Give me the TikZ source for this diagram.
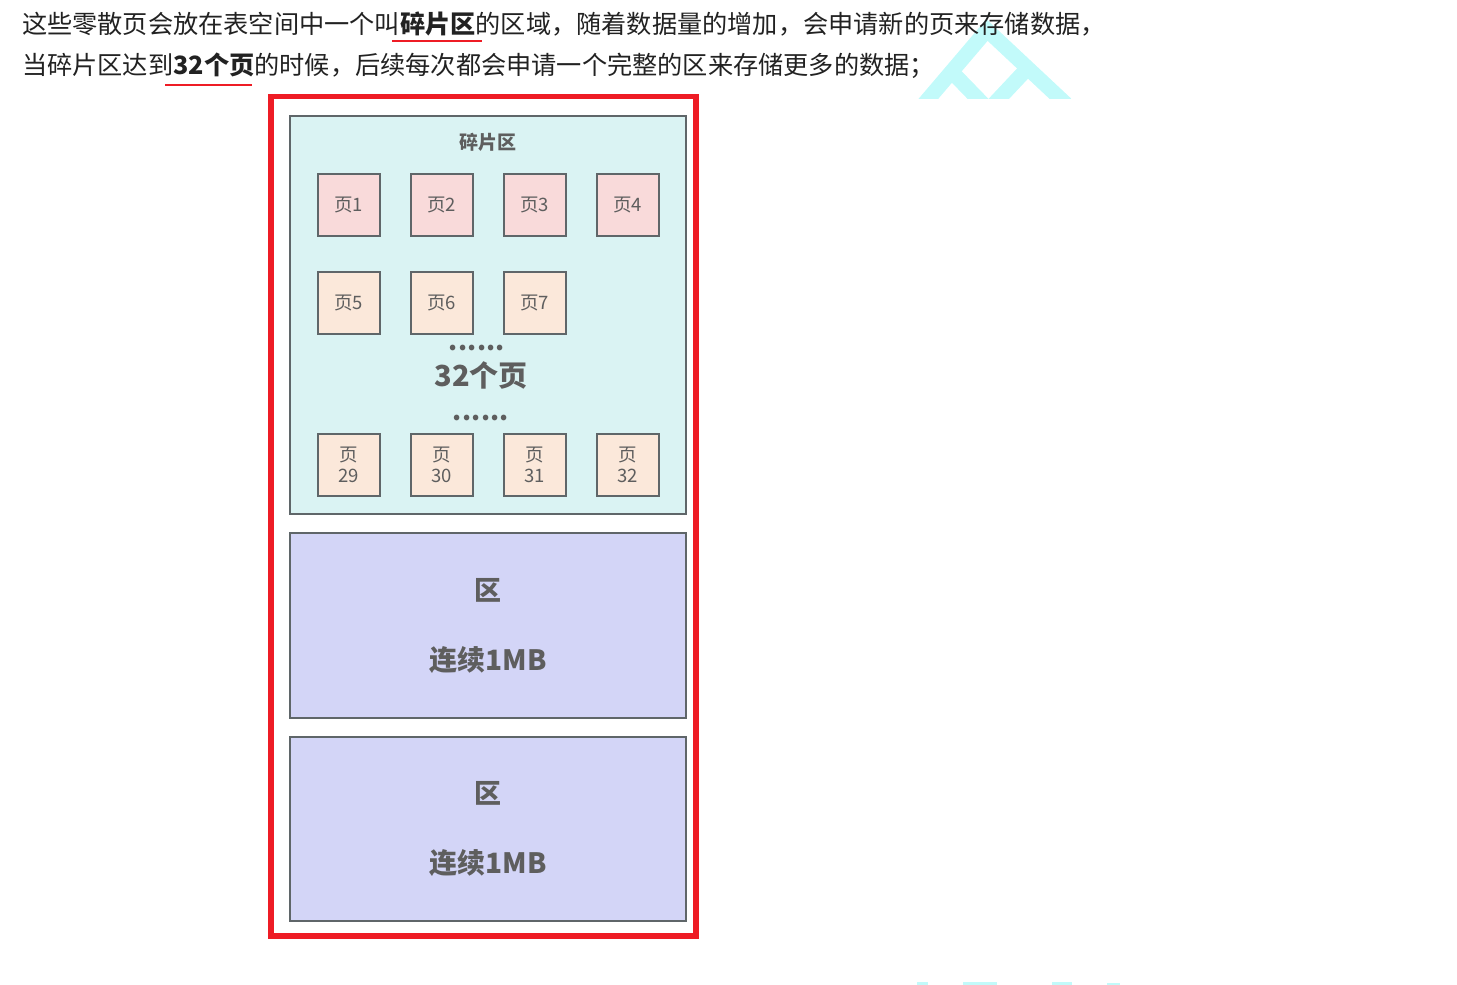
\documentclass[tikz,border=0pt]{standalone}
\usepackage{fontspec}
\setmainfont{Noto Sans CJK SC}
\definecolor{txt}{HTML}{222222}
\definecolor{redline}{HTML}{EE1C25}
\definecolor{wm}{HTML}{C2FAFA}
\definecolor{tealfill}{HTML}{DAF3F3}
\definecolor{pinkfill}{HTML}{F9DADA}
\definecolor{peachfill}{HTML}{FBE8DA}
\definecolor{purplefill}{HTML}{D3D5F7}
\definecolor{border}{HTML}{5F6669}
\definecolor{gtxt}{HTML}{5E5E5E}
\tikzset{
  para/.style={inner sep=0pt, text=txt, font=\fontsize{25.2}{30}\selectfont},
  pagebox/.style={draw=border, line width=2pt, minimum width=62pt, minimum height=62pt, inner sep=0pt, text=gtxt, font=\fontsize{18.5}{21}\selectfont, align=center},
  pinkpage/.style={pagebox, fill=pinkfill},
  peachpage/.style={pagebox, fill=peachfill},
  bigbox/.style={draw=border, line width=2pt, minimum width=396pt, inner sep=0pt},
  label/.style={inner sep=0pt, text=gtxt},
  dotrow/.style={label, font=\bfseries\fontsize{26}{30}\selectfont\addfontfeature{LetterSpace=1}},
  wmline/.style={draw=wm, line width=15pt}
}
\begin{document}
\begin{tikzpicture}[x=1pt,y=-1pt]
\useasboundingbox (0,0) rectangle (1457,985);
% watermark
\begin{scope}
\clip (900,0) rectangle (1100,98);
\draw[wmline] (924,104) -- (987,30) -- (1066,104);
\draw[wmline] (950,70) -- (983,104);
\draw[wmline] (994,104) -- (1024,72);
\end{scope}
\fill[wm] (917,982) rectangle (928,985);
\fill[wm] (963,982) rectangle (997,985);
\fill[wm] (1052,982) rectangle (1072,985);
\fill[wm] (1107,983) rectangle (1120,985);
% paragraph
\node[para, anchor=west] (l1) at (22,24) {这些零散页会放在表空间中一个叫\textbf{碎片区}的区域，随着数据量的增加，会申请新的页来存储数据，};
\node[para, anchor=west] (l2) at (22,66) {当碎片区达到\textbf{32个页}的时候，后续每次都会申请一个完整的区来存储更多的数据；};
\coordinate (u1a) at (392,41); \coordinate (u1b) at (482,41);
\coordinate (u2a) at (165,85); \coordinate (u2b) at (252,85);
\draw[redline, line width=2pt] (u1a) -- (u1b);
\draw[redline, line width=2pt] (u2a) -- (u2b);
% red frame
\node[draw=redline, line width=5.5pt, minimum width=425pt, minimum height=839.5pt, inner sep=0pt] (frame) at (483.5,516) {};
% fragment area
\node[bigbox, fill=tealfill, minimum height=398pt] (frag) at (488,315) {};
\node[label, font=\bfseries\fontsize{19}{22}\selectfont] (fragt) at (488,142) {碎片区};
\node[pinkpage] (p1) at (348.5,205) {页1};
\node[pinkpage] (p2) at (441.5,205) {页2};
\node[pinkpage] (p3) at (534.5,205) {页3};
\node[pinkpage] (p4) at (627.5,205) {页4};
\node[peachpage] (p5) at (348.5,303) {页5};
\node[peachpage] (p6) at (441.5,303) {页6};
\node[peachpage] (p7) at (534.5,303) {页7};
\node[dotrow] (dots1) at (477,348) {......};
\node[label, font=\bfseries\fontsize{29}{34}\selectfont] (n32) at (481,375) {32个页};
\node[dotrow] (dots2) at (481,418) {......};
\node[peachpage] (p29) at (348.5,465) {页\\29};
\node[peachpage] (p30) at (441.5,465) {页\\30};
\node[peachpage] (p31) at (534.5,465) {页\\31};
\node[peachpage] (p32) at (627.5,465) {页\\32};
% extents
\node[bigbox, fill=purplefill, minimum height=185pt] (ext1) at (488,625.5) {};
\node[label, font=\bfseries\fontsize{27}{30}\selectfont] (ext1a) at (488,590) {区};
\node[label, font=\bfseries\fontsize{28}{32}\selectfont] (ext1b) at (488,660) {连续1MB};
\node[bigbox, fill=purplefill, minimum height=184pt] (ext2) at (488,829) {};
\node[label, font=\bfseries\fontsize{27}{30}\selectfont] (ext2a) at (488,793) {区};
\node[label, font=\bfseries\fontsize{28}{32}\selectfont] (ext2b) at (488,863) {连续1MB};
\end{tikzpicture}
\end{document}
